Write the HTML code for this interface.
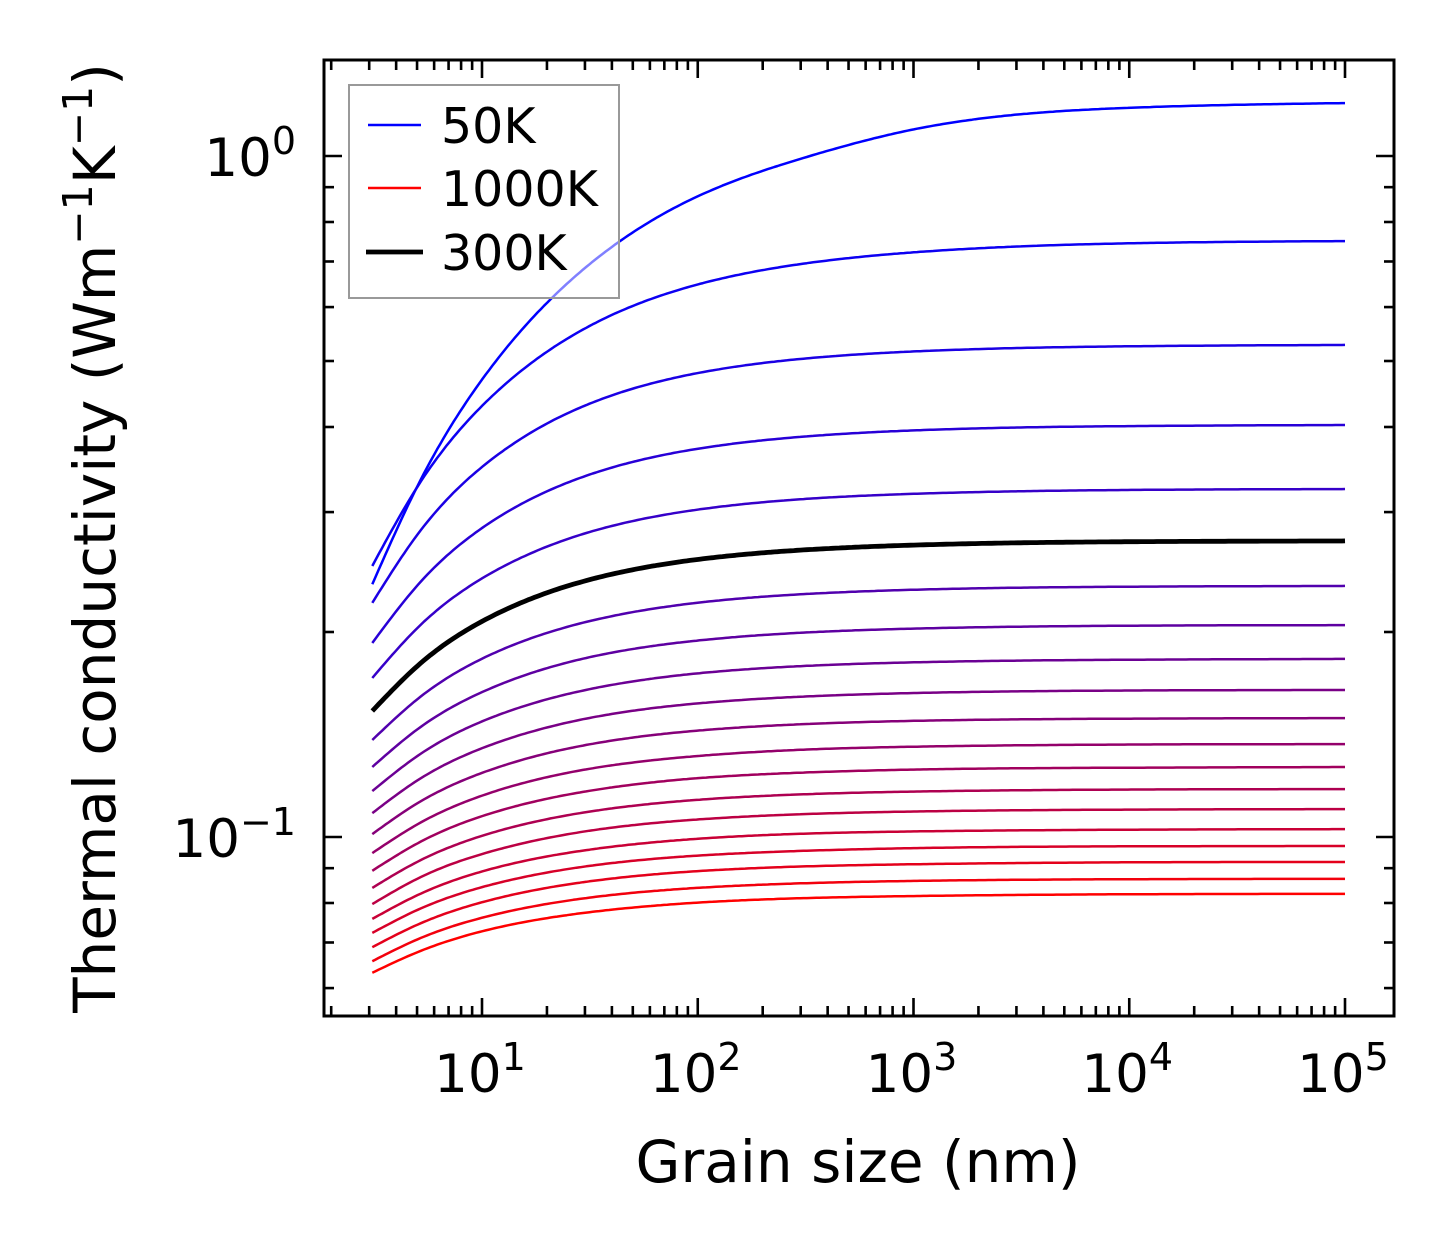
<!DOCTYPE html>
<html><head><meta charset="utf-8"><style>
html,body{margin:0;padding:0;background:#fff;}
svg{display:block;font-family:"DejaVu Sans","Liberation Sans",sans-serif;}
</style></head><body>
<svg id="chart" width="1454" height="1254" viewBox="0 0 1454 1254" xmlns="http://www.w3.org/2000/svg" style="position:absolute;left:0;top:0">
<g id="curves"></g>
<g id="axes"></g>
</svg>
<script>
const grainSizes = [3.1, 5, 10, 30, 100, 300, 1000, 10000, 100000];
const seriesLabels = ["50K","c2","c3","c4","c5","300K","c7","c8","c9","c10","c11","c12","c13","c14","c15","c16","c17","c18","c19","1000K"];
const k1 = [0.235,0.3267,0.4695,0.6847,0.8726,0.9906,1.094,1.177,1.196];
const k2 = [0.250,0.3262,0.4295,0.5581,0.6477,0.6940,0.7220,0.7444,0.750];
const k3 = [0.2207,0.2775,0.3494,0.4300,0.4800,0.5035,0.5164,0.5255,0.5279];
const k4 = [0.1927,0.2338,0.2842,0.3387,0.3716,0.3869,0.3954,0.4012,0.4027];
const k5 = [0.1712,0.2025,0.2397,0.2791,0.3025,0.3133,0.3191,0.3233,0.3243];
const k6 = [0.1531,0.1781,0.2073,0.2377,0.2556,0.2638,0.2683,0.2714,0.2721];
const k7 = [0.1388,0.1592,0.1827,0.2067,0.2208,0.2272,0.2307,0.2331,0.2337];
const k8 = [0.1267,0.1438,0.1632,0.1830,0.1943,0.1995,0.2023,0.2043,0.2047];
const k9 = [0.1168,0.1314,0.1478,0.1643,0.1739,0.1782,0.1805,0.1821,0.1826];
const k10 = [0.1084,0.1210,0.1350,0.1491,0.1571,0.1607,0.1627,0.1641,0.1644];
const k11 = [0.1010,0.1120,0.1242,0.1364,0.1433,0.1464,0.1481,0.1492,0.1495];
const k12 = [0.0947,0.1043,0.1150,0.1256,0.1315,0.1343,0.1357,0.1367,0.1369];
const k13 = [0.0892,0.0978,0.1073,0.1166,0.1220,0.1243,0.1256,0.1264,0.1267];
const k14 = [0.0842,0.0919,0.1004,0.1087,0.1134,0.1155,0.1166,0.1174,0.1176];
const k15 = [0.0797,0.0868,0.0944,0.1019,0.1061,0.1080,0.1090,0.1097,0.1099];
const k16 = [0.0758,0.0821,0.0890,0.0956,0.0994,0.1011,0.1019,0.1025,0.1027];
const k17 = [0.0723,0.0781,0.0844,0.0905,0.0939,0.0954,0.0963,0.0969,0.0970];
const k18 = [0.0689,0.0743,0.0802,0.0859,0.0891,0.0905,0.0912,0.0918,0.0919];
const k19 = [0.0657,0.0707,0.0761,0.0813,0.0842,0.0855,0.0862,0.0867,0.0868];
const k20 = [0.0632,0.0677,0.0727,0.0774,0.0801,0.0813,0.0819,0.0824,0.0825];
const series = [k1,k2,k3,k4,k5,k6,k7,k8,k9,k10,k11,k12,k13,k14,k15,k16,k17,k18,k19,k20];
const xTickExps = [1,2,3,4,5];
const yTickExps = [0,-1];

const NS="http://www.w3.org/2000/svg";
const L=324,R=1394,T=60,B=1016;
const X=v=>482+(Math.log10(v)-1)*215.75;
const Y=v=>156-Math.log10(v)*681;
function mk(tag,attrs,parent){const e=document.createElementNS(NS,tag);for(const k in attrs)e.setAttribute(k,attrs[k]);parent.appendChild(e);return e;}
const curves=document.getElementById('curves');
const axes=document.getElementById('axes');

// natural cubic spline
function spline(xs,ys){
  const n=xs.length,h=[],a=new Array(n).fill(0),b=new Array(n).fill(0),c=new Array(n).fill(0),r=new Array(n).fill(0);
  for(let i=0;i<n-1;i++)h.push(xs[i+1]-xs[i]);
  b[0]=1;b[n-1]=1;
  for(let i=1;i<n-1;i++){a[i]=h[i-1];b[i]=2*(h[i-1]+h[i]);c[i]=h[i];
    r[i]=6*((ys[i+1]-ys[i])/h[i]-(ys[i]-ys[i-1])/h[i-1]);}
  for(let i=1;i<n;i++){const w=a[i]/b[i-1];b[i]-=w*c[i-1];r[i]-=w*r[i-1];}
  const M=new Array(n);M[n-1]=r[n-1]/b[n-1];
  for(let i=n-2;i>=0;i--)M[i]=(r[i]-c[i]*M[i+1])/b[i];
  return x=>{let i=0;while(i<n-2&&x>xs[i+1])i++;
    const hh=h[i],A=(xs[i+1]-x)/hh,Bb=(x-xs[i])/hh;
    return A*ys[i]+Bb*ys[i+1]+((A*A*A-A)*M[i]+(Bb*Bb*Bb-Bb)*M[i+1])*hh*hh/6;};
}
const lx=grainSizes.map(v=>Math.log10(v));
series.forEach((s,i)=>{
  const f=spline(lx,s.map(v=>Math.log10(v)));
  let d="";
  for(let j=0;j<=300;j++){const l=lx[0]+(lx[lx.length-1]-lx[0])*j/300;const v=Math.pow(10,f(l));
    d+=(j?"L":"M")+X(Math.pow(10,l)).toFixed(1)+","+Y(v).toFixed(1);}
  const t=i/19;
  const isBlack=(i===5);
  const col=isBlack?"#000":"rgb("+Math.round(255*t)+",0,"+Math.round(255*(1-t))+")";
  const p=mk('path',{d:d,fill:'none',stroke:col,'stroke-width':isBlack?4.8:2.5,'stroke-linejoin':'round'},curves);
  
  
});

const fr=mk('rect',{x:L,y:T,width:R-L,height:B-T,fill:'none',stroke:'#000','stroke-width':3},axes);


for(let e=0;e<=5;e++){for(let m=1;m<=9;m++){const v=m*Math.pow(10,e);const x=X(v);if(x<L+1||x>R-1)continue;
  const len=m===1?18:10;
  mk('line',{x1:x,y1:B,x2:x,y2:B-len,stroke:'#000','stroke-width':2.6},axes);
  mk('line',{x1:x,y1:T,x2:x,y2:T+len,stroke:'#000','stroke-width':2.6},axes);}}
for(let e=-2;e<=0;e++){for(let m=1;m<=9;m++){const v=m*Math.pow(10,e);const y=Y(v);if(y<T+1||y>B-1)continue;
  const len=m===1?18:10;
  mk('line',{x1:L,y1:y,x2:L+len,y2:y,stroke:'#000','stroke-width':2.6},axes);
  mk('line',{x1:R,y1:y,x2:R-len,y2:y,stroke:'#000','stroke-width':2.6},axes);}}
xTickExps.forEach(e=>{const t=mk('text',{x:X(Math.pow(10,e))-2,y:1092,'font-size':53,'text-anchor':'middle'},axes);
  t.innerHTML='10<tspan dy="-22" font-size="38">'+e+'</tspan>';
  
  });
yTickExps.forEach(e=>{const t=mk('text',{x:296,y:Y(Math.pow(10,e))+20,'font-size':53,'text-anchor':'end'},axes);
  t.innerHTML='10<tspan dy="-22" font-size="38">'+(e===0?'0':'\u22121')+'</tspan>';
  
  });
</script>
<svg style="position:absolute;left:0;top:0" width="1454" height="1254">
<text x="858" y="1182" font-size="58" text-anchor="middle" font-family="DejaVu Sans, Liberation Sans, sans-serif">Grain size (nm)</text>
<text transform="translate(115,538) rotate(-90)" font-size="58" text-anchor="middle" font-family="DejaVu Sans, Liberation Sans, sans-serif">Thermal conductivity (Wm<tspan dy="-23" font-size="41">−1</tspan><tspan dy="23">K</tspan><tspan dy="-23" font-size="41">−1</tspan><tspan dy="23">)</tspan></text>
<g font-family="DejaVu Sans, Liberation Sans, sans-serif">
<rect x="349" y="85" width="270" height="213" fill="#fff" fill-opacity="0.5" stroke="#999" stroke-width="2"/>
<line x1="368" y1="125" x2="421" y2="125" stroke="#0000ff" stroke-width="2.5"/>
<text x="441" y="143" font-size="49">50K</text>
<line x1="368" y1="188" x2="421" y2="188" stroke="#ff0000" stroke-width="2.5"/>
<text x="441" y="206" font-size="49">1000K</text>
<line x1="366" y1="252" x2="423" y2="252" stroke="#000" stroke-width="4.8"/>
<text x="441" y="270" font-size="49">300K</text>
</g>
</svg>
</body></html>
